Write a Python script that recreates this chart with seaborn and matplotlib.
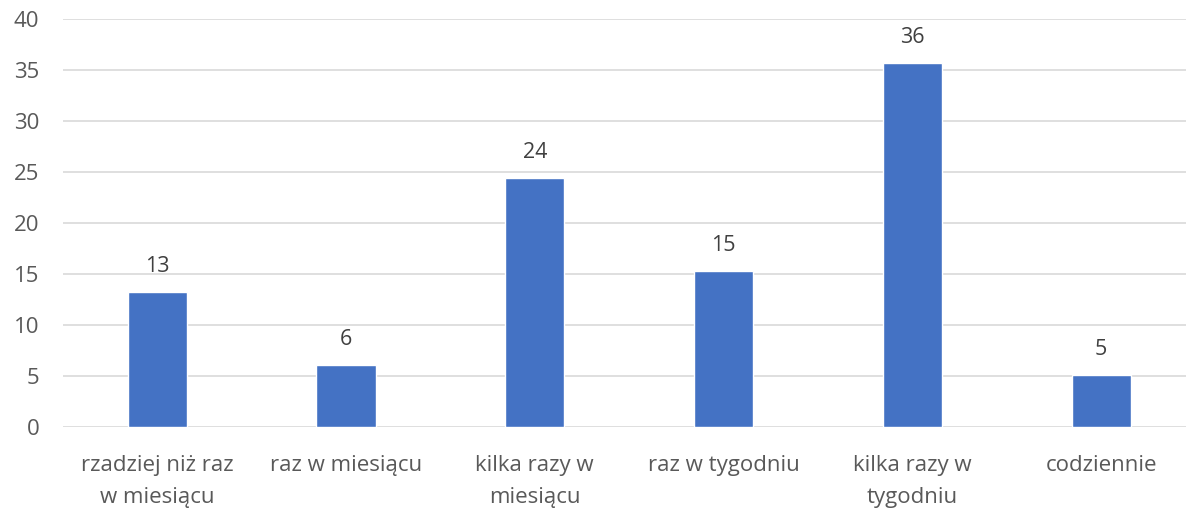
import matplotlib
matplotlib.use("Agg")
import matplotlib.pyplot as plt
import seaborn as sns
import pandas as pd

categories = ["rzadziej niż raz\nw miesiącu", "raz w miesiącu", "kilka razy w\nmiesiącu",
              "raz w tygodniu", "kilka razy w\ntygodniu", "codziennie"]
values = [13.24, 6.1, 24.4, 15.3, 35.7, 5.1]
value_labels = ["13", "6", "24", "15", "36", "5"]
yticks = [0, 5, 10, 15, 20, 25, 30, 35, 40]

sns.set_theme(style="white")
plt.rcParams['font.family'] = ['Open Sans', 'DejaVu Sans']

fig = plt.figure(figsize=(11.86, 5.11), dpi=100)
ax = fig.add_axes([0.053, 0.164, 0.955, 0.798])

df = pd.DataFrame({"cat": categories, "val": values})
sns.barplot(data=df, x="cat", y="val", color="#4472C4", saturation=1, width=0.313, ax=ax, zorder=3)

ax.bar_label(ax.containers[0], labels=value_labels, padding=11, fontsize=15.5, color="#404040")

ax.set_ylim(0, 40)
ax.set_yticks(yticks)
ax.set_yticklabels([str(t) for t in yticks])
ax.set_xlim(-0.5, 5.5)
ax.yaxis.grid(True, color="#d9d9d9", linewidth=1.2, zorder=0)
ax.set_axisbelow(True)
for s in ax.spines.values():
    s.set_visible(False)
ax.set_xlabel("")
ax.set_ylabel("")
ax.tick_params(axis="y", length=0, pad=17, labelsize=16, labelcolor="#595959")
ax.tick_params(axis="x", length=0, pad=20, labelsize=16, labelcolor="#595959")
for lbl in ax.get_xticklabels():
    lbl.set_linespacing(1.7)

fig.savefig("out.png", dpi=100)
